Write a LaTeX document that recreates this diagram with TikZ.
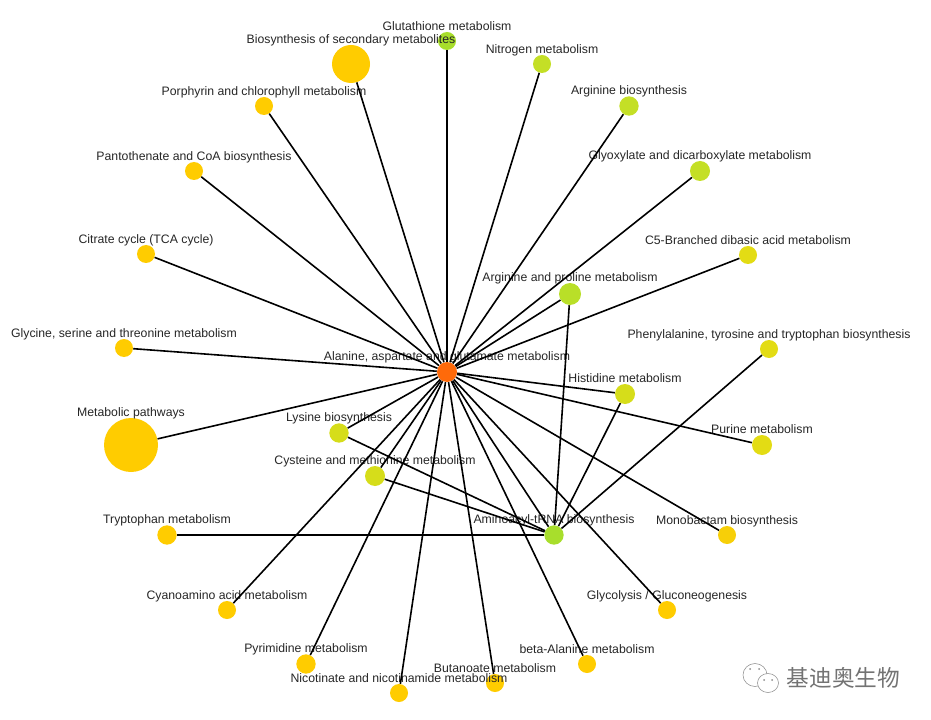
\documentclass[tikz,border=0pt]{standalone}
\usepackage{fontspec}
\setmainfont{Liberation Sans}
\newfontfamily\cjk{Noto Sans CJK SC}
\definecolor{hubred}{HTML}{FF6A0A}
\definecolor{gold}{HTML}{FFCC00}
\definecolor{amber}{HTML}{F7CF08}
\definecolor{yelA}{HTML}{E3DC14}
\definecolor{yelB}{HTML}{D6DD1A}
\definecolor{limeA}{HTML}{C4DF26}
\definecolor{limeB}{HTML}{A8DE2C}
\tikzset{
  bubble/.style={circle, inner sep=0pt, minimum size=#1},
  tag/.style={font=\fontsize{9.2pt}{10pt}\selectfont, text=black!85, inner sep=0pt, text height=7pt, text depth=2pt, yshift=-1pt},
  link/.style={line width=1.2pt},
  wxicon/.style={draw=black!45, line width=0.4pt, fill=white},
}
\begin{document}
\begin{tikzpicture}[x=0.75pt, y=-0.75pt]
            \useasboundingbox (0,0) rectangle (931,720);
            % pathways
            \node[bubble=15pt, fill=hubred, label={[tag]above:Alanine, aspartate and glutamate metabolism}] (hub) at (447,372) {};
            \node[bubble=13.5pt, fill=limeB, label={[tag]above:Glutathione metabolism}] (glutathione) at (447,41) {};
            \node[bubble=28.5pt, fill=gold, label={[tag]above:Biosynthesis of secondary metabolites}] (secondary) at (351,64) {};
            \node[bubble=13.5pt, fill=limeA, label={[tag]above:Nitrogen metabolism}] (nitrogen) at (542,64) {};
            \node[bubble=14.5pt, fill=limeA, label={[tag]above:Arginine biosynthesis}] (arginine) at (629,106) {};
            \node[bubble=13.5pt, fill=gold, label={[tag]above:Porphyrin and chlorophyll metabolism}] (porphyrin) at (264,106) {};
            \node[bubble=13.5pt, fill=gold, label={[tag]above:Pantothenate and CoA biosynthesis}] (pantothenate) at (194,171) {};
            \node[bubble=15pt, fill=limeA, label={[tag]above:Glyoxylate and dicarboxylate metabolism}] (glyoxylate) at (700,171) {};
            \node[bubble=13.5pt, fill=gold, label={[tag]above:Citrate cycle (TCA cycle)}] (citrate) at (146,254) {};
            \node[bubble=13.5pt, fill=yelA, label={[tag]above:C5-Branched dibasic acid metabolism}] (branched) at (748,255) {};
            \node[bubble=16.5pt, fill=limeA!60!limeB, label={[tag]above:Arginine and proline metabolism}] (proline) at (570,294) {};
            \node[bubble=13.5pt, fill=gold, label={[tag]above:{Glycine, serine and threonine metabolism}}] (glycine) at (124,348) {};
            \node[bubble=13.5pt, fill=yelA, label={[tag]above:{Phenylalanine, tyrosine and tryptophan biosynthesis}}] (phenylalanine) at (769,349) {};
            \node[bubble=15pt, fill=yelB, label={[tag]above:Histidine metabolism}] (histidine) at (625,394) {};
            \node[bubble=40.5pt, fill=gold, label={[tag]above:Metabolic pathways}] (metabolic) at (131,445) {};
            \node[bubble=14.5pt, fill=yelB, label={[tag]above:Lysine biosynthesis}] (lysine) at (339,433) {};
            \node[bubble=15pt, fill=yelA, label={[tag]above:Purine metabolism}] (purine) at (762,445) {};
            \node[bubble=15pt, fill=yelB, label={[tag]above:Cysteine and methionine metabolism}] (cysteine) at (375,476) {};
            \node[bubble=14.5pt, fill=gold, label={[tag]above:Tryptophan metabolism}] (tryptophan) at (167,535) {};
            \node[bubble=14.5pt, fill=limeB, label={[tag]above:Aminoacyl-tRNA biosynthesis}] (aminoacyl) at (554,535) {};
            \node[bubble=13.5pt, fill=amber, label={[tag]above:Monobactam biosynthesis}] (monobactam) at (727,535) {};
            \node[bubble=13.5pt, fill=gold, label={[tag]above:Cyanoamino acid metabolism}] (cyanoamino) at (227,610) {};
            \node[bubble=13.5pt, fill=gold, label={[tag]above:Glycolysis / Gluconeogenesis}] (glycolysis) at (667,610) {};
            \node[bubble=14.5pt, fill=gold, label={[tag]above:Pyrimidine metabolism}] (pyrimidine) at (306,664) {};
            \node[bubble=13.5pt, fill=gold, label={[tag]above:beta-Alanine metabolism}] (betaalanine) at (587,664) {};
            \node[bubble=13.5pt, fill=gold, label={[tag]above:Butanoate metabolism}] (butanoate) at (495,683) {};
            \node[bubble=13.5pt, fill=gold, label={[tag]above:Nicotinate and nicotinamide metabolism}] (nicotinate) at (399,693) {};
            % links
            \foreach \p in {glutathione,secondary,nitrogen,arginine,porphyrin,pantothenate,glyoxylate,citrate,branched,proline,glycine,histidine,metabolic,lysine,purine,cysteine,aminoacyl,monobactam,cyanoamino,glycolysis,pyrimidine,betaalanine,butanoate,nicotinate}
                \draw[link] (hub)--(\p);
            \foreach \p in {proline,histidine,lysine,cysteine,tryptophan,phenylalanine}
                \draw[link] (aminoacyl)--(\p);
            % watermark
            \draw[wxicon] (755,675) ellipse (12 and 11.5);
            \draw[wxicon] (768,683) ellipse (10.5 and 9.5);
            \fill[black!45] (750,669) circle (1) (759,669) circle (1) (764,680) circle (1) (772,680) circle (1);
            \node[font=\cjk\fontsize{17pt}{18pt}\selectfont, text=black!55, inner sep=0pt] (mark) at (843.5,678) {基迪奥生物};
        \end{tikzpicture}
\end{document}
